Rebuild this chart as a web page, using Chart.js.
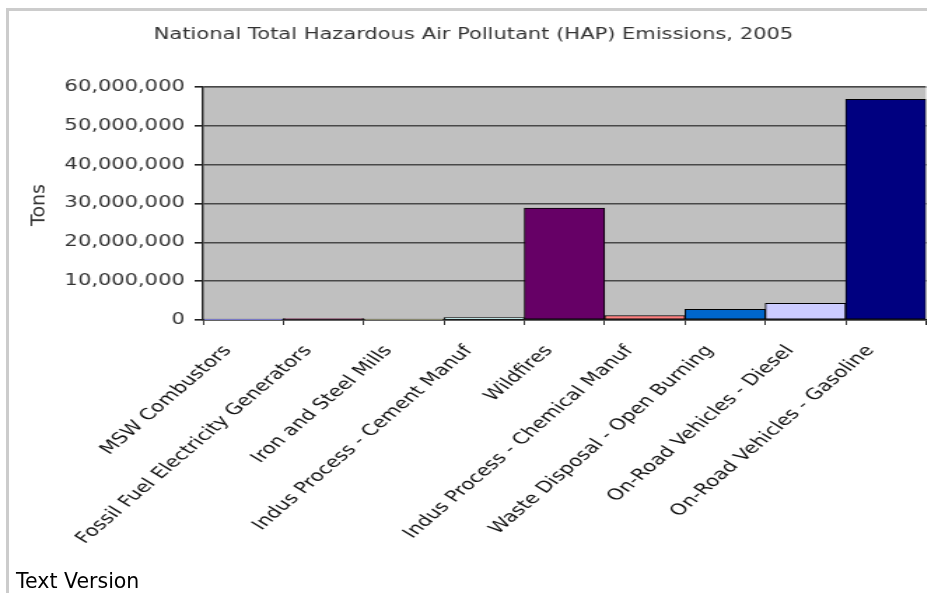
<!DOCTYPE html>
<html>
<head>
<meta charset="utf-8">
<script src="https://cdn.jsdelivr.net/npm/chart.js@4.4.1/dist/chart.umd.min.js"></script>
<style>
  html, body { margin: 0; padding: 0; background: #ffffff; overflow: hidden; }
  body { width: 927px; height: 593px; position: relative; }
  #frame {
    position: absolute; left: 6px; top: 8px; width: 930px; height: 600px;
    border-left: 3px solid #cccccc; border-top: 3px solid #cccccc;
  }
  #wrap {
    position: absolute; left: 0; top: 0; width: 662px; height: 593px;
    transform: scaleX(1.4); transform-origin: 0 0;
  }
  #yTitle {
    position: absolute; left: 38px; top: 205px;
    transform: translate(-50%, -50%) rotate(-90deg);
    font-family: "DejaVu Sans", Verdana, sans-serif; font-size: 19px; line-height: 19px;
    color: #333333; white-space: nowrap;
  }
  #textVersion {
    position: absolute; left: 16px; top: 571px;
    font-family: "DejaVu Sans", Verdana, sans-serif; font-size: 20.5px; line-height: 20px;
    color: #000000;
  }
</style>
</head>
<body>
<div id="frame"></div>
<div id="wrap"><canvas id="chart" width="662" height="593"></canvas></div>
<div id="yTitle"></div>
<div id="textVersion">Text Version</div>
<script>
// Emission source categories
const categories = [
  'MSW Combustors',
  'Fossil Fuel Electricity Generators',
  'Iron and Steel Mills',
  'Indus Process - Cement Manuf',
  'Wildfires',
  'Indus Process - Chemical Manuf',
  'Waste Disposal - Open Burning',
  'On-Road Vehicles - Diesel',
  'On-Road Vehicles - Gasoline'
];

// National HAP emissions, tons (2005)
const emissionsTons = [20000, 350000, 40000, 650000, 28800000, 1150000, 2750000, 4300000, 56800000];

// One fill per category
const barColors = ['#9999FF', '#993366', '#FFFFCC', '#CCFFFF', '#660066', '#FF8080', '#0066CC', '#CCCCFF', '#000080'];

// Value axis range
const yMin = 0;
const yMax = 60000000;
const yStep = 10000000;

const chartTitle = 'National Total Hazardous Air Pollutant (HAP) Emissions, 2005';
const yAxisTitle = 'Tons';

const FONT = '"DejaVu Sans", Verdana, sans-serif';

document.getElementById('yTitle').textContent = yAxisTitle;

// Grey plot-area background
const plotBackground = {
  id: 'plotBackground',
  beforeDraw(chart) {
    const { ctx, chartArea: a } = chart;
    ctx.save();
    ctx.fillStyle = '#c0c0c0';
    ctx.fillRect(a.left, a.top, a.right - a.left, a.bottom - a.top);
    ctx.strokeStyle = '#a0a0a0';
    ctx.lineWidth = 1;
    ctx.beginPath();
    ctx.moveTo(a.left, a.top + 0.5);
    ctx.lineTo(a.right, a.top + 0.5);
    ctx.stroke();
    ctx.restore();
  }
};

new Chart(document.getElementById('chart'), {
  type: 'bar',
  data: {
    labels: categories,
    datasets: [{
      data: emissionsTons,
      backgroundColor: barColors,
      borderColor: '#000000',
      borderWidth: 1,
      borderSkipped: false,
      barPercentage: 1.0,
      categoryPercentage: 1.0
    }]
  },
  options: {
    responsive: false,
    animation: false,
    layout: { padding: { left: 15, right: 0.6, top: 0, bottom: 0 } },
    plugins: {
      legend: { display: false },
      tooltip: { enabled: false },
      title: {
        display: true,
        text: chartTitle,
        color: '#333333',
        font: { family: FONT, size: 15, weight: 'normal' },
        padding: { top: 26, bottom: 43 }
      }
    },
    scales: {
      x: {
        grid: {
          display: true,
          drawOnChartArea: false,
          drawTicks: true,
          tickLength: 5,
          offset: true,
          color: '#333333',
          lineWidth: 1
        },
        border: { display: true, color: '#222222', width: 1.5 },
        ticks: {
          autoSkip: false,
          maxRotation: 50,
          minRotation: 50,
          padding: 17,
          labelOffset: -11,
          color: '#111111',
          font: { family: FONT, size: 15.5 }
        },
        afterFit(scale) {
          scale.height = 273;
          scale.paddingLeft = 0;
          scale.paddingRight = 0;
        }
      },
      y: {
        min: yMin,
        max: yMax,
        grid: {
          color: '#484848',
          lineWidth: 1.6,
          drawTicks: true,
          tickLength: 6,
          tickColor: '#222222'
        },
        border: { display: true, color: '#222222', width: 1.4 },
        ticks: {
          stepSize: yStep,
          padding: 7,
          color: '#333333',
          font: { family: FONT, size: 15 },
          callback: (v) => Number(v).toLocaleString('en-US')
        },
        afterFit(scale) { scale.width = 130; }
      }
    }
  },
  plugins: [plotBackground]
});
</script>
</body>
</html>
